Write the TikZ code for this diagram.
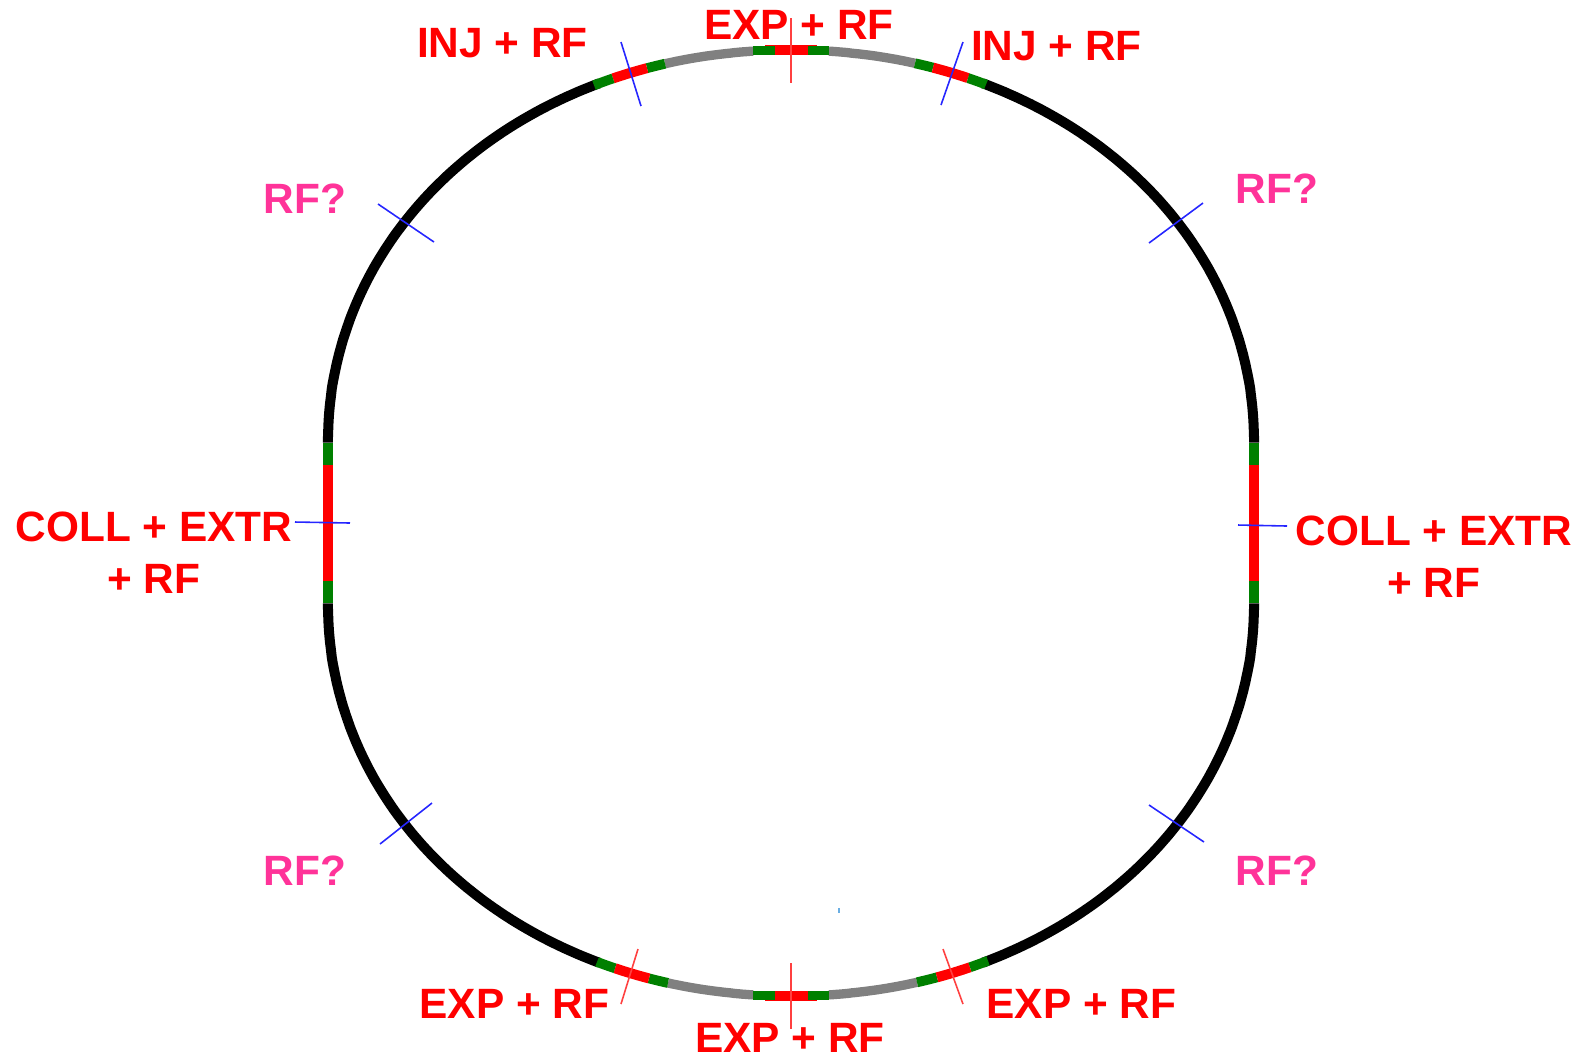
\documentclass[tikz,border=0pt]{standalone}
\usepackage{xcolor}
\usepackage{fontspec}
\setmainfont{Liberation Sans}
\definecolor{rfpink}{RGB}{255,51,153}
\definecolor{segred}{RGB}{255,0,0}
\definecolor{seggreen}{RGB}{0,128,0}
\definecolor{seggrey}{RGB}{128,128,128}
% one black quarter of the ring: centre y, x sign, y sign
\newcommand{\ringquarter}[3]{\draw[ring, domain=0.05:66, samples=90, variable=\t]
      plot ({791+#2*463*pow(cos(\t),0.98)},{#1+#3*393*pow(sin(\t),0.98)});}
% a coloured bit of the ring: centre y, x sign, y sign, from, to (distance from the middle), style
\newcommand{\ringbit}[6]{\draw[#6, domain=#4:#5, samples=24, variable=\u]
      plot ({791+#2*\u},{#1+#3*393*pow(1-pow(\u/463,2.04),0.4902)});}
\begin{document}
\begin{tikzpicture}[
    x=0.01cm, y=-0.01cm,
    every node/.style={font=\fontsize{12.05}{14.8}\bfseries\selectfont, inner sep=0pt, align=center},
    seglabel/.style={text=segred},
    rflabel/.style={text=rfpink},
    ring/.style={line width=2.85pt, black},
    greybit/.style={line width=2.65pt, seggrey},
    greenbit/.style={line width=2.8pt, seggreen},
    redbit/.style={line width=2.85pt, segred},
    bluetick/.style={line width=0.45pt, blue!85!white},
    redtick/.style={line width=0.45pt, segred!75!white},
]
\useasboundingbox (0,0) rectangle (1581,1056);
% ring, black parts
\ringquarter{443}{-1}{-1}
\ringquarter{443}{1}{-1}
\ringquarter{603}{-1}{1}
\ringquarter{603}{1}{1}
\draw[redbit, line width=3.1pt] (328,455) -- (328,591);
\draw[redbit] (1254,465) -- (1254,581);
\draw[greenbit] (328,443) -- (328,465);
\draw[greenbit] (328,581) -- (328,603);
\draw[greenbit] (1254,443) -- (1254,465);
\draw[greenbit] (1254,581) -- (1254,603);
% top section
\ringbit{443}{-1}{-1}{38}{126}{greybit}
\ringbit{443}{-1}{-1}{126}{144}{greenbit}
\ringbit{443}{-1}{-1}{144}{178}{redbit}
\ringbit{443}{-1}{-1}{178}{197}{greenbit}
\ringbit{443}{1}{-1}{38}{124}{greybit}
\ringbit{443}{1}{-1}{124}{142}{greenbit}
\ringbit{443}{1}{-1}{142}{177}{redbit}
\ringbit{443}{1}{-1}{177}{195}{greenbit}
\draw[redbit] (765,49.5) -- (817,49.5);
\draw[greenbit] (753,50.5) -- (775,50.5);
\draw[greenbit] (808,50.5) -- (829,50.5);
% bottom section
\ringbit{603}{-1}{1}{38}{123}{greybit}
\ringbit{603}{-1}{1}{123}{142}{greenbit}
\ringbit{603}{-1}{1}{142}{176}{redbit}
\ringbit{603}{-1}{1}{176}{194}{greenbit}
\ringbit{603}{1}{1}{38}{126}{greybit}
\ringbit{603}{1}{1}{126}{146}{greenbit}
\ringbit{603}{1}{1}{146}{179}{redbit}
\ringbit{603}{1}{1}{179}{197}{greenbit}
\draw[redbit] (765,995.5) -- (817,995.5);
\draw[greenbit] (753,995.5) -- (775,995.5);
\draw[greenbit] (808,995.5) -- (829,995.5);
% ticks
\draw[bluetick] (621,42) -- (641,106);
\draw[bluetick] (963,42) -- (941,105);
\draw[redtick] (791,18) -- (791,83);
\draw[redtick] (791,963) -- (791,1029);
\draw[redtick] (638,949) -- (621,1004);
\draw[redtick] (943,949) -- (963,1004);
\draw[bluetick] (295,522) -- (350,523);
\draw[bluetick] (1238,525) -- (1287,526);
\draw[bluetick] (378,204) -- (434,242);
\draw[bluetick] (1203,203) -- (1149,243);
\draw[bluetick] (432,803) -- (380,844);
\draw[bluetick] (1149,805) -- (1204,842);
\draw[line width=0.3pt, cyan!70!blue!60] (839,908) -- (839,913);
% labels
\node[seglabel] (injl) at (502.5,43.5) {INJ + RF};
\node[seglabel] (expt) at (799,25) {EXP + RF};
\node[seglabel] (injr) at (1056.5,46.5) {INJ + RF};
\node[seglabel] (colll) at (154,553) {COLL + EXTR\\+ RF};
\node[seglabel] (collr) at (1434,557) {COLL + EXTR\\+ RF};
\node[seglabel] (expl) at (514.5,1004) {EXP + RF};
\node[seglabel] (expb) at (790,1037.5) {EXP + RF};
\node[seglabel] (expr) at (1081.5,1004) {EXP + RF};
\node[rflabel] (rftl) at (305,198.5) {RF?};
\node[rflabel] (rftr) at (1277,188.5) {RF?};
\node[rflabel] (rfbl) at (305,870.5) {RF?};
\node[rflabel] (rfbr) at (1277,870.5) {RF?};
\end{tikzpicture}
\end{document}
